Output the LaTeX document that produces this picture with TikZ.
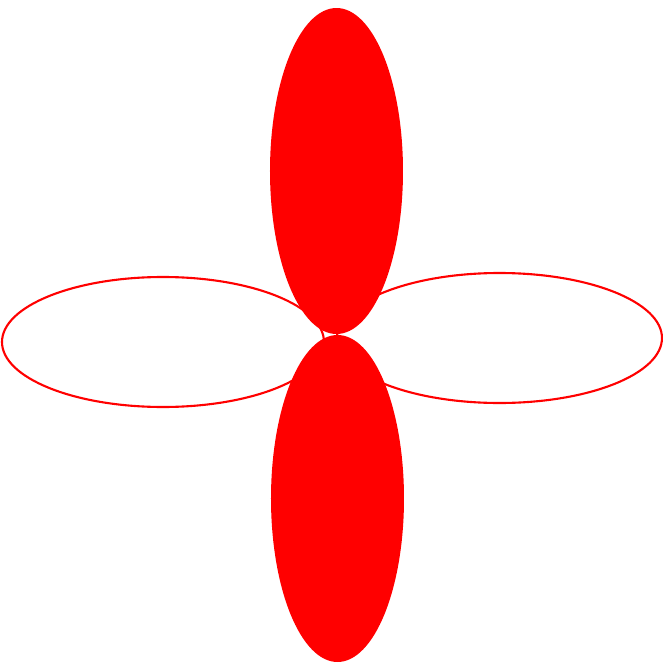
\documentclass[tikz,border=0pt]{standalone}
\usetikzlibrary{calc}

\begin{document}
\begin{tikzpicture}[x = 0.1mm, y = 0.1mm]
            \useasboundingbox(0,0)rectangle(663,668);
            \tikzset{leer/.style = {draw = red, line width = 0.6pt},
                     voll/.style = {fill = red}}
            \coordinate(O)at(337,332);
            \coordinate(L)at(163,326);
            \coordinate(R)at(499.5,330);
            \coordinate(T)at(336.5,497);
            \coordinate(U)at(337.5,169.5);
            %waagerecht
            \path[leer](L)ellipse[x radius = 161, y radius = 65];
            \path[leer](R)ellipse[x radius = 162.5, y radius = 65];
            %senkrecht
            \path[voll](T)ellipse[x radius = 66.5, y radius = 163];
            \path[voll](U)ellipse[x radius = 66.5, y radius = 163.5];
        \end{tikzpicture}
\end{document}
